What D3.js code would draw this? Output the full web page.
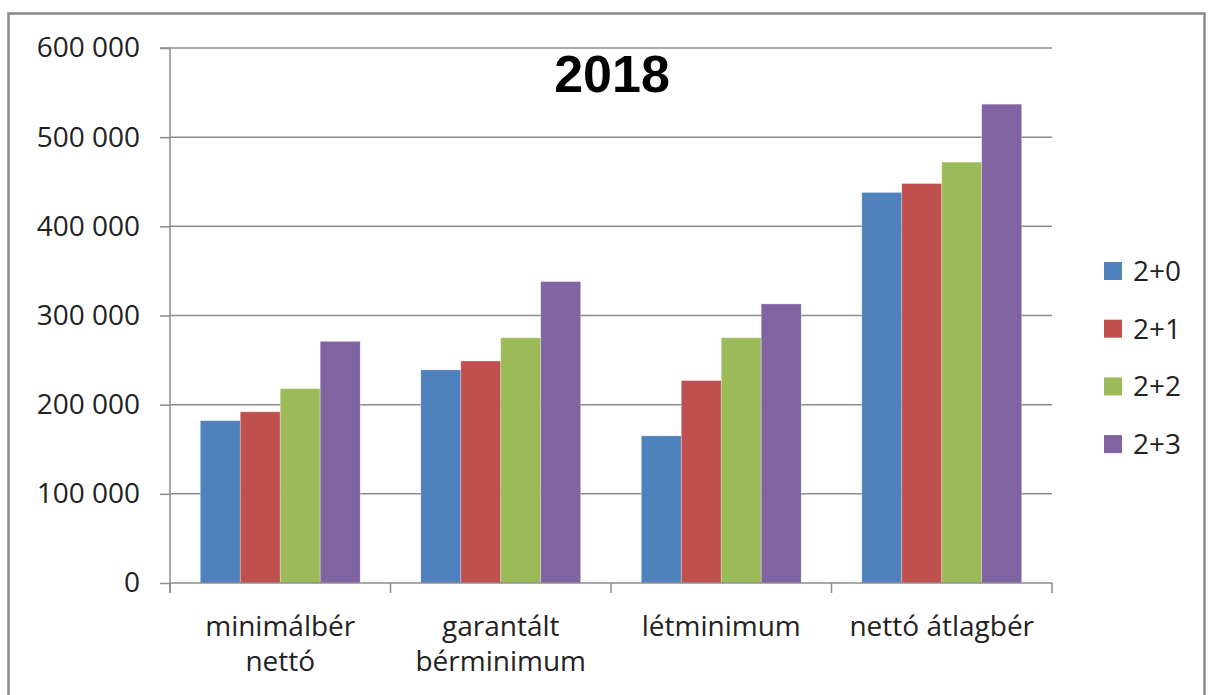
<!DOCTYPE html>
<html>
<head>
<meta charset="utf-8">
<script src="https://cdn.jsdelivr.net/npm/d3@7"></script>
<style>
  body { margin: 0; background: #fff; }
</style>
</head>
<body>
<svg width="1212" height="695"></svg>
<script>
var categories = ["minimálbér nettó", "garantált bérminimum", "létminimum", "nettó átlagbér"];
var seriesNames = ["2+0", "2+1", "2+2", "2+3"];
var s20 = [182000, 239000, 165000, 438000];
var s21 = [192000, 249000, 227000, 448000];
var s22 = [218000, 275000, 275000, 472000];
var s23 = [271000, 338000, 313000, 537000];
var yTicks = [0, 100000, 200000, 300000, 400000, 500000, 600000];
var colors = ["#4F81BD", "#C0504D", "#9BBB59", "#8064A2"];

var seriesValues = [s20, s21, s22, s23];
var labelFont = "'Open Sans', 'Liberation Sans', sans-serif";

var svg = d3.select("svg");
var plotLeft = 170, plotTop = 48, plotRight = 1052, plotBottom = 583;

// outer frame
svg.append("rect")
   .attr("x", 8.5).attr("y", 13.5)
   .attr("width", 1196).attr("height", 700)
   .attr("fill", "none").attr("stroke", "#8a8a8a").attr("stroke-width", 2.5);

var x0 = d3.scaleBand().domain(categories).range([plotLeft, plotRight])
           .paddingInner(0.275).paddingOuter(0.1375);
var x1 = d3.scaleBand().domain(seriesNames).range([0, x0.bandwidth()]);
var y = d3.scaleLinear().domain([0, 600000]).range([plotBottom, plotTop]);

var loc = d3.formatLocale({decimal: ",", thousands: " ", grouping: [3], currency: ["", ""]});
var fmt = loc.format(",");

// gridlines
svg.append("g").selectAll("line")
   .data(yTicks.filter(function(d) { return d > 0; }))
   .enter().append("line")
   .attr("x1", plotLeft).attr("x2", plotRight)
   .attr("y1", function(d) { return y(d); })
   .attr("y2", function(d) { return y(d); })
   .attr("stroke", "#8c8c8c").attr("stroke-width", 1.5);

// bars
var rows = categories.map(function(c, i) {
  return { cat: c, vals: seriesNames.map(function(s, j) { return { s: s, v: seriesValues[j][i], c: colors[j] }; }) };
});

var groups = svg.append("g").selectAll("g")
   .data(rows).enter().append("g")
   .attr("transform", function(d) { return "translate(" + x0(d.cat) + ",0)"; });

groups.selectAll("rect")
   .data(function(d) { return d.vals; })
   .enter().append("rect")
   .attr("x", function(d) { return x1(d.s); })
   .attr("y", function(d) { return y(d.v); })
   .attr("width", x1.bandwidth())
   .attr("height", function(d) { return plotBottom - y(d.v); })
   .attr("fill", function(d) { return d.c; })
   .attr("stroke", "rgba(255,255,255,0.35)").attr("stroke-width", 0.8);

// y axis
var yAxis = svg.append("g")
   .attr("transform", "translate(" + plotLeft + ",0)")
   .call(d3.axisLeft(y).tickValues(yTicks).tickFormat(fmt).tickSize(10).tickPadding(20));
yAxis.select(".domain").attr("stroke", "#8c8c8c").attr("stroke-width", 1.5)
   .attr("d", "M-10," + plotTop + "H0V" + (plotBottom + 10));
yAxis.selectAll(".tick line").attr("stroke", "#8c8c8c").attr("stroke-width", 1.5);
yAxis.selectAll(".tick text").attr("font-size", 28).attr("fill", "#222")
   .attr("font-family", labelFont);

// x axis
var step = x0.step();
var bounds = categories.map(function(c) { return x0(c) - step * x0.paddingInner() / 2; });
bounds.push(plotRight);
svg.append("line")
   .attr("x1", plotLeft).attr("x2", plotRight).attr("y1", plotBottom).attr("y2", plotBottom)
   .attr("stroke", "#8c8c8c").attr("stroke-width", 1.5);
svg.append("g").selectAll("line")
   .data(bounds).enter().append("line")
   .attr("x1", function(d) { return d; }).attr("x2", function(d) { return d; })
   .attr("y1", plotBottom).attr("y2", plotBottom + 10)
   .attr("stroke", "#8c8c8c").attr("stroke-width", 1.5);

var labels = svg.append("g").selectAll("text")
   .data(categories).enter().append("text")
   .attr("x", function(d) { return x0(d) + x0.bandwidth() / 2; })
   .attr("y", 636)
   .attr("text-anchor", "middle")
   .attr("font-family", labelFont)
   .attr("font-size", 28)
   .attr("fill", "#222");

labels.each(function(d) {
  var t = d3.select(this);
  var words = d.split(" ");
  t.text(d);
  if (this.getComputedTextLength() > 205 && words.length > 1) {
    t.text(null);
    var cx = t.attr("x");
    words.forEach(function(w, i) {
      t.append("tspan").attr("x", cx).attr("dy", i === 0 ? 0 : 35).text(w);
    });
  }
});

// title
svg.append("text")
   .attr("x", 612).attr("y", 92)
   .attr("text-anchor", "middle")
   .attr("font-family", "'Liberation Sans', Arial, sans-serif")
   .attr("font-size", 52).attr("font-weight", "bold")
   .attr("fill", "#000")
   .text("2018");

// legend
var legend = svg.append("g").selectAll("g")
   .data(seriesNames).enter().append("g")
   .attr("transform", function(d, i) { return "translate(1104," + (271 + i * 57.7) + ")"; });
legend.append("rect")
   .attr("x", 0).attr("y", -9).attr("width", 18).attr("height", 18)
   .attr("fill", function(d, i) { return colors[i]; });
legend.append("text")
   .attr("x", 29).attr("y", 10)
   .attr("font-family", labelFont)
   .attr("font-size", 28)
   .attr("fill", "#222")
   .text(function(d) { return d; });
</script>
</body>
</html>
